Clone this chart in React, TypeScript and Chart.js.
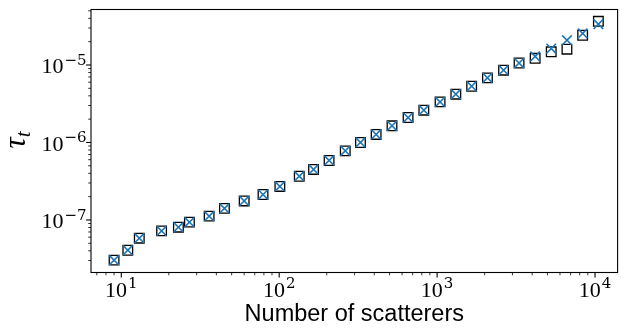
import React, { useEffect, useRef } from "react";
import { Chart, registerables } from "chart.js";

Chart.register(...registerables);

// ---- data ----
const nScatterers = [
  9, 11, 13, 18, 23, 27, 36, 45, 60, 79, 101, 134, 165, 207, 262, 327, 411, 518,
  655, 824, 1044, 1314, 1655, 2083, 2635, 3303, 4177, 5280, 6640, 8350, 10500,
];
const tauSquare = [
  3.03e-8, 4.07e-8, 5.82e-8, 7.23e-8, 8.07e-8, 9.37e-8, 1.12e-7, 1.41e-7, 1.76e-7,
  2.13e-7, 2.71e-7, 3.67e-7, 4.49e-7, 5.86e-7, 7.8e-7, 1.0e-6, 1.27e-6, 1.64e-6,
  2.1e-6, 2.61e-6, 3.34e-6, 4.2e-6, 5.32e-6, 6.82e-6, 8.57e-6, 1.06e-5, 1.22e-5,
  1.48e-5, 1.6e-5, 2.42e-5, 3.66e-5,
];
const tauCross = [
  3.03e-8, 4.07e-8, 5.82e-8, 7.23e-8, 8.07e-8, 9.37e-8, 1.12e-7, 1.41e-7, 1.76e-7,
  2.13e-7, 2.71e-7, 3.67e-7, 4.49e-7, 5.86e-7, 7.8e-7, 1.0e-6, 1.27e-6, 1.64e-6,
  2.1e-6, 2.61e-6, 3.34e-6, 4.2e-6, 5.32e-6, 6.82e-6, 8.57e-6, 1.06e-5, 1.29e-5,
  1.63e-5, 2.09e-5, 2.55e-5, 3.36e-5,
];
const xTickExponents = [1, 2, 3, 4];
const yTickExponents = [-7, -6, -5];
const xTitle = "Number of scatterers";
const yTitleMain = "τ";
const yTitleSub = "t";

const X_MIN = 6.43;
const X_MAX = 13900;
const Y_MIN = 2.1e-8;
const Y_MAX = 5.2e-5;

const BASE_FONT = '22px "Liberation Serif"';
const EXP_FONT = '15px "DejaVu Serif"';

const mplAxes = {
  id: "mplAxes",
  afterDatasetsDraw(chart: any) {
    const { ctx, chartArea: a, scales } = chart;
    const xs = scales.x;
    const ys = scales.y;
    ctx.save();
    ctx.strokeStyle = "#000";
    ctx.fillStyle = "#000";

    // tick marks
    const xk0 = Math.floor(Math.log10(X_MIN));
    const xk1 = Math.ceil(Math.log10(X_MAX));
    for (let k = xk0; k <= xk1; k++) {
      for (let m = 1; m <= 9; m++) {
        const v = m * Math.pow(10, k);
        if (v < X_MIN || v > X_MAX) continue;
        const px = xs.getPixelForValue(v);
        const major = m === 1;
        ctx.lineWidth = major ? 1.1 : 0.8;
        ctx.beginPath();
        ctx.moveTo(px, a.bottom);
        ctx.lineTo(px, a.bottom + (major ? 4.9 : 2.8));
        ctx.stroke();
      }
    }
    const yk0 = Math.floor(Math.log10(Y_MIN));
    const yk1 = Math.ceil(Math.log10(Y_MAX));
    for (let k = yk0; k <= yk1; k++) {
      for (let m = 1; m <= 9; m++) {
        const v = m * Math.pow(10, k);
        if (v < Y_MIN || v > Y_MAX) continue;
        const py = ys.getPixelForValue(v);
        const major = m === 1;
        ctx.lineWidth = major ? 1.1 : 0.8;
        ctx.beginPath();
        ctx.moveTo(a.left, py);
        ctx.lineTo(a.left - (major ? 4.9 : 2.8), py);
        ctx.stroke();
      }
    }

    // frame
    ctx.lineWidth = 1.1;
    ctx.strokeRect(a.left, a.top, a.right - a.left, a.bottom - a.top);

    // x tick labels
    ctx.textBaseline = "alphabetic";
    ctx.textAlign = "left";
    for (const e of xTickExponents) {
      const px = xs.getPixelForValue(Math.pow(10, e));
      ctx.font = BASE_FONT;
      const wb = ctx.measureText("10").width;
      ctx.font = EXP_FONT;
      const se = String(e);
      const we = ctx.measureText(se).width;
      const x0 = px - (wb + we + 1) / 2;
      ctx.font = BASE_FONT;
      ctx.fillText("10", x0, a.bottom + 24);
      ctx.font = EXP_FONT;
      ctx.fillText(se, x0 + wb + 1, a.bottom + 15);
    }

    // y tick labels
    for (const e of yTickExponents) {
      const py = ys.getPixelForValue(Math.pow(10, e));
      const se = "\u2212" + String(-e);
      ctx.font = EXP_FONT;
      const we = ctx.measureText(se).width;
      ctx.font = BASE_FONT;
      const wb = ctx.measureText("10").width;
      const xr = a.left - 4.5;
      ctx.font = EXP_FONT;
      ctx.fillText(se, xr - we, py - 0.3);
      ctx.font = BASE_FONT;
      ctx.fillText("10", xr - we - 1 - wb, py + 8.3);
    }

    // x title
    ctx.font = '23.5px "Liberation Sans"';
    ctx.textAlign = "center";
    ctx.fillText(xTitle, (a.left + a.right) / 2, 320.5);

    // y title (rotated)
    ctx.translate(25, 140);
    ctx.rotate(-Math.PI / 2);
    ctx.textAlign = "left";
    ctx.font = 'italic 31px "Liberation Serif"';
    const wt = ctx.measureText(yTitleMain).width;
    ctx.font = 'italic 21px "Liberation Serif"';
    const ws = ctx.measureText(yTitleSub).width;
    const start = -(wt + ws) / 2;
    ctx.font = 'italic 31px "Liberation Serif"';
    ctx.fillText(yTitleMain, start, 0);
    ctx.font = 'italic 21px "Liberation Serif"';
    ctx.fillText(yTitleSub, start + wt, 5);

    ctx.restore();
  },
};

export default function App() {
  const ref = useRef<HTMLCanvasElement | null>(null);
  useEffect(() => {
    document.body.style.margin = "0";
    const canvas = ref.current;
    if (!canvas) return;
    const chart = new Chart(canvas, {
      type: "scatter",
      data: {
        datasets: [
          {
            label: "cross",
            data: nScatterers.map((x, i) => ({ x, y: tauCross[i] })),
            pointStyle: "crossRot",
            pointRadius: 6.8,
            borderColor: "#1f77b4",
            backgroundColor: "#1f77b4",
            borderWidth: 1.6,
            order: 0,
          },
          {
            label: "square",
            data: nScatterers.map((x, i) => ({ x, y: tauSquare[i] })),
            pointStyle: "rect",
            pointRadius: 6.8,
            borderColor: "#000",
            backgroundColor: "rgba(0,0,0,0)",
            borderWidth: 1.3,
            order: 1,
          },
        ],
      },
      options: {
        responsive: false,
        animation: false,
        devicePixelRatio: 1,
        events: [],
        layout: { padding: { left: 91, right: 1.5, top: 9.5, bottom: 56.5 } },
        plugins: { legend: { display: false }, tooltip: { enabled: false } },
        scales: {
          x: { type: "logarithmic", min: X_MIN, max: X_MAX, display: false },
          y: { type: "logarithmic", min: Y_MIN, max: Y_MAX, display: false },
        },
      },
      plugins: [mplAxes],
    } as any);
    return () => chart.destroy();
  }, []);
  return (
    <canvas
      ref={ref}
      width={626}
      height={329}
      style={{ display: "block", width: 626, height: 329 }}
    />
  );
}
